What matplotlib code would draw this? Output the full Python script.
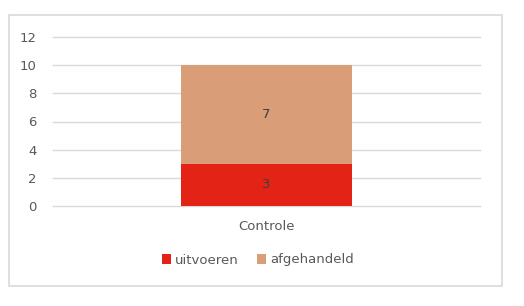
import matplotlib
matplotlib.use("Agg")
import matplotlib.pyplot as plt
from matplotlib.patches import Rectangle

categories = ["Controle"]
uitvoeren = [3]
afgehandeld = [7]
series_names = ["uitvoeren", "afgehandeld"]
colors = ["#e32315", "#d99e78"]
yticks = [0, 2, 4, 6, 8, 10, 12]

plt.rcParams['font.family'] = ['DejaVu Sans']
txt = "#595959"

fig = plt.figure(figsize=(5.24, 3.06), dpi=100)
fig.patches.append(Rectangle((9/524, 1-286/306), 493/524, 271/306, transform=fig.transFigure,
                             fill=False, edgecolor="#d9d9d9", linewidth=1.2))
ax = fig.add_axes([53/524, 1-206/306, 427/524, 169/306])

x = list(range(len(categories)))
b1 = ax.bar(x, uitvoeren, width=0.4, color=colors[0], label=series_names[0], zorder=3)
b2 = ax.bar(x, afgehandeld, width=0.4, bottom=uitvoeren, color=colors[1], label=series_names[1], zorder=3)
for bars in (b1, b2):
    ax.bar_label(bars, label_type="center", color="#404040", fontsize=9.5)

ax.set_xlim(-0.5, 0.5)
ax.set_ylim(0, 12)
ax.set_yticks(yticks)
ax.set_yticklabels([str(t) for t in yticks], color=txt, fontsize=9.5)
ax.set_xticks(x)
ax.set_xticklabels(categories, color=txt, fontsize=9.5)
ax.tick_params(axis="both", length=0)
ax.tick_params(axis="y", pad=12)
ax.tick_params(axis="x", pad=10)
ax.grid(axis="y", color="#d9d9d9", linewidth=1, zorder=0)
for gl in ax.get_ygridlines():
    gl.set_clip_on(False)
for s in ax.spines.values():
    s.set_visible(False)

fig.legend(handles=[b1, b2], labels=series_names, loc="center", bbox_to_anchor=(258/524, 1-260/306),
           ncol=2, frameon=False, fontsize=9.5, labelcolor=txt, handlelength=0.7, handleheight=0.7,
           handletextpad=0.3, columnspacing=1.4)

fig.savefig("out.png", dpi=100)
